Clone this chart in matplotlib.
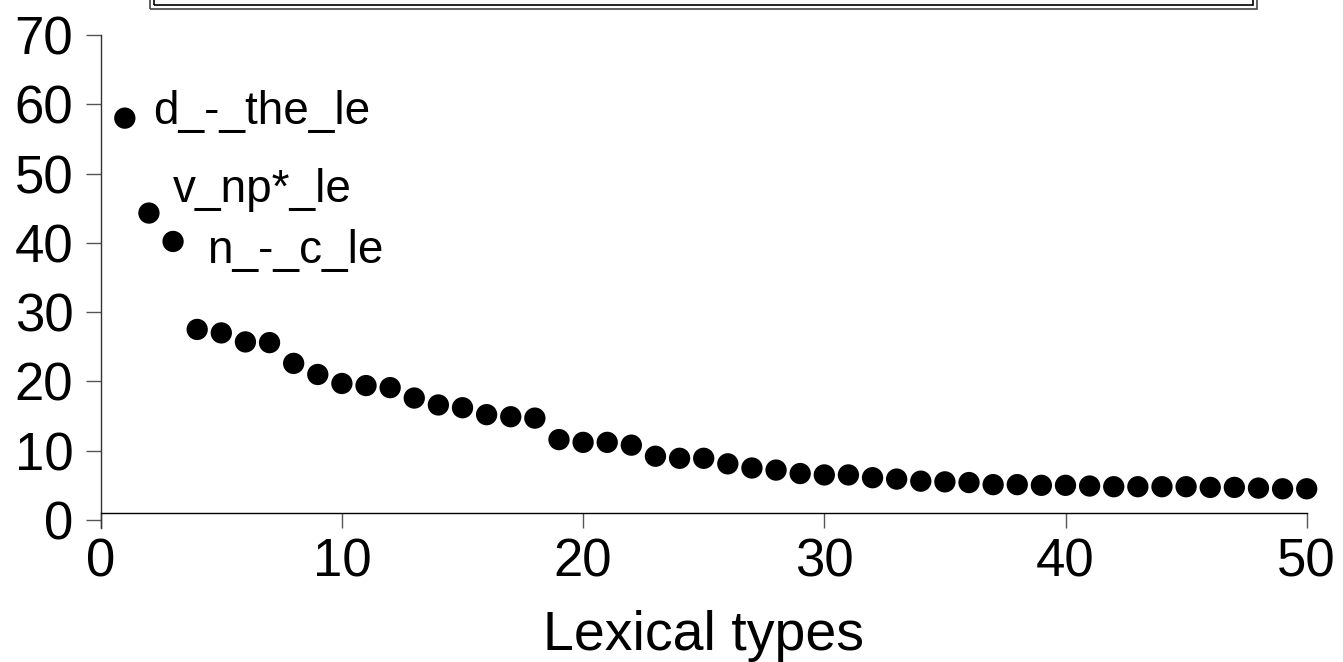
import matplotlib
matplotlib.use("Agg")
import matplotlib.pyplot as plt
from matplotlib.patches import Rectangle

plt.rcParams['font.family'] = ['Liberation Sans', 'DejaVu Sans']

# Data
ranks = list(range(1, 51))
freq = [58.0, 44.3, 40.2, 27.5, 27.0, 25.7, 25.6, 22.6, 21.0, 19.7,
        19.4, 19.1, 17.6, 16.6, 16.2, 15.2, 14.9, 14.7, 11.6, 11.2,
        11.2, 10.8, 9.2, 8.9, 8.9, 8.1, 7.5, 7.2, 6.7, 6.5,
        6.5, 6.1, 5.9, 5.6, 5.5, 5.4, 5.1, 5.1, 5.0, 5.0,
        4.9, 4.8, 4.8, 4.8, 4.8, 4.7, 4.7, 4.6, 4.5, 4.5]
annot_labels = ["d_-_the_le", "v_np*_le", "n_-_c_le"]
annot_x = [2.17, 3.0, 4.4]
annot_y = [57.1, 45.9, 37.1]
xticks = [0, 10, 20, 30, 40, 50]
yticks = [0, 10, 20, 30, 40, 50, 60, 70]

W, H = 1343, 662
fig = plt.figure(figsize=(W / 100, H / 100), dpi=100)
ax = fig.add_axes([100.7 / W, 1 - 528 / H, (1306.7 - 100.7) / W, (528 - 35) / H])

ax.scatter(ranks, freq, s=235, color='black', edgecolors='none', clip_on=False, zorder=3)

for lab, x, y in zip(annot_labels, annot_x, annot_y):
    ax.text(x, y, lab, fontsize=33, ha='left', va='baseline')

ax.set_xlim(0, 50)
ax.set_ylim(-1.16, 70)
ax.set_xticks(xticks)
ax.set_yticks(yticks)
ax.tick_params(axis='both', labelsize=38, length=10.8, width=1.0, color='#555555')
ax.tick_params(axis='x', pad=7)
ax.tick_params(axis='y', pad=9)

for s in ['top', 'right']:
    ax.spines[s].set_visible(False)
ax.spines['bottom'].set_position(('data', 1.0))
ax.spines['bottom'].set_linewidth(1.0)
ax.spines['left'].set_linewidth(1.0)
ax.spines['left'].set_color('#333333')

ax.set_xlabel("Lexical types", fontsize=40)
ax.xaxis.label.set_va('baseline')
ax.xaxis.set_label_coords(0.5, (528 - 650) / 493)

# double-bordered box partially visible at top
fig.patches.append(Rectangle((150 / W, 1 - 8.5 / H), (1257 - 150) / W, 40 / H,
                             transform=fig.transFigure, fill=False,
                             edgecolor='#444444', linewidth=1.2))
fig.patches.append(Rectangle((154 / W, 1 - 4.5 / H), (1253 - 154) / W, 40 / H,
                             transform=fig.transFigure, fill=False,
                             edgecolor='black', linewidth=1.2))

fig.savefig("out.png", dpi=100)
